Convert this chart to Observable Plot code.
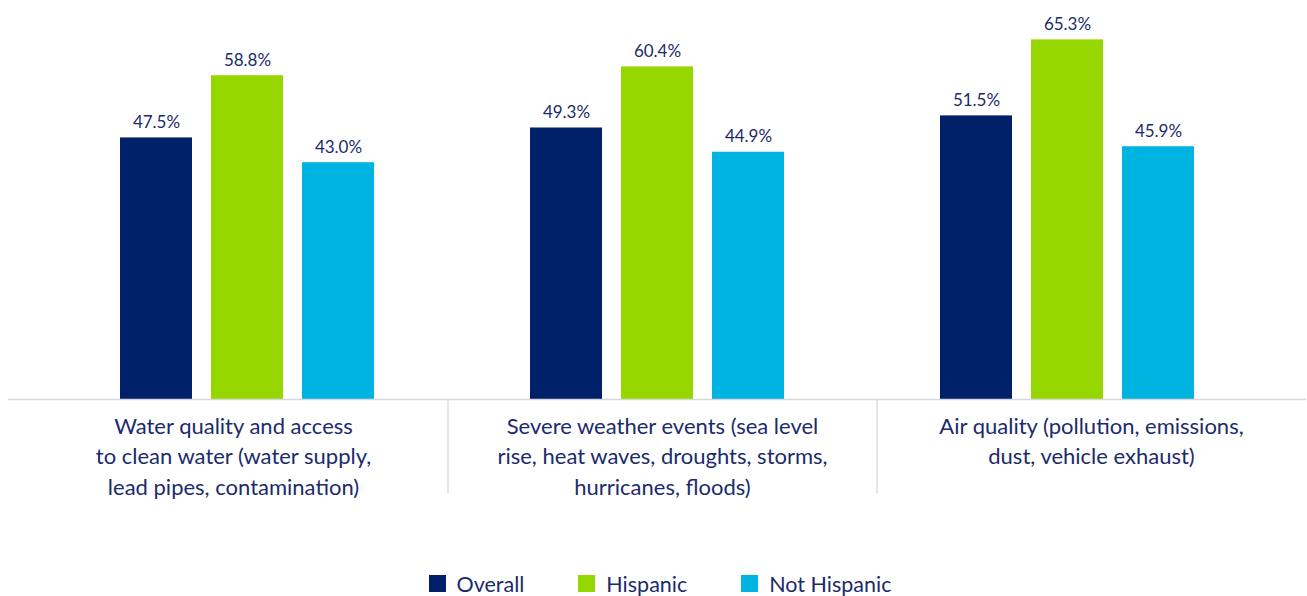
<!DOCTYPE html>
<html>
<head>
<meta charset="utf-8">
<script src="https://cdn.jsdelivr.net/npm/d3@7"></script>
<script src="https://cdn.jsdelivr.net/npm/@observablehq/plot@0.6"></script>
<style>
  html, body { margin: 0; padding: 0; background: #fff; }
  #chart { width: 1307px; }
  .lg-swatches { justify-content: center; font-family: Lato, "Open Sans", sans-serif; font-size: 21.5px; color: #1b2b6b; padding-left: 13px; margin-top: 1px; }
  .lg-swatch { margin-right: 54px !important; }
  .lg-swatch:last-child { margin-right: 0 !important; }
  .lg-swatch > svg { margin-right: 11px !important; }
</style>
</head>
<body>
<div id="chart"></div>
<script>
// ---- data ----
const categories = [
  "Water quality and access\nto clean water (water supply,\nlead pipes, contamination)",
  "Severe weather events (sea level\nrise, heat waves, droughts, storms,\nhurricanes, floods)",
  "Air quality (pollution, emissions,\ndust, vehicle exhaust)"
];
const series = ["Overall", "Hispanic", "Not Hispanic"];
const overall = [47.5, 49.3, 51.5];
const hispanic = [58.8, 60.4, 65.3];
const notHispanic = [43.0, 44.9, 45.9];
const colors = ["#002169", "#97d700", "#00b4e1"];
const textColor = "#1b2b6b";

const valuesBySeries = [overall, hispanic, notHispanic];
const rows = [];
series.forEach((s, si) => categories.forEach((c, ci) => rows.push({category: c, series: s, value: valuesBySeries[si][ci]})));

// ---- layout ----
const W = 1307, H = 566, baseline = 399;
const marginLeft = 8, marginRight = 1, marginTop = 13.5;
const step = 410, barW = 72, barStep = 91;
const paddingOuter = ((W - marginLeft - marginRight) / step - categories.length) / 2;
const barCenter = i => marginLeft + paddingOuter * step + step * (i + 0.5);
// label columns (slightly wider than bar groups)
const colStart = 18.5, colStep = 429;
const colCenter = i => colStart + colStep * (i + 0.5);
const font = "Lato, 'Open Sans', sans-serif";

const marks = [];
series.forEach((s, si) => {
  const d = rows.filter(r => r.series === s);
  const dx = (si - 1) * barStep;
  marks.push(Plot.barY(d, {x: "category", y: "value", fill: "series", dx, insetLeft: (step - barW) / 2, insetRight: (step - barW) / 2}));
  marks.push(Plot.text(d, {x: "category", y: "value", dx, dy: -15.5, text: r => r.value.toFixed(1) + "%", fill: textColor, fontSize: 17, fontFamily: font}));
});
categories.slice(0, -1).forEach((c, i) => {
  marks.push(Plot.ruleX([c], {x: d => d, dx: colStart + colStep * (i + 1) - barCenter(i), stroke: "#dcdce6", strokeWidth: 1.5, insetTop: baseline - marginTop, insetBottom: -94}));
});
marks.push(Plot.ruleY([0], {stroke: "#d6d6e0", strokeWidth: 1.5}));
categories.forEach((c, i) => {
  marks.push(Plot.text([c], {x: d => d, y: () => 0, text: d => d, dx: colCenter(i) - barCenter(i), dy: 12.5, lineAnchor: "top", lineHeight: 1.386, fontSize: 22, fill: textColor, fontFamily: font}));
});

const plot = Plot.plot({
  width: W,
  height: H,
  marginLeft, marginRight, marginTop,
  marginBottom: H - baseline,
  style: {fontFamily: font, background: "#fff"},
  x: {domain: categories, paddingInner: 0, paddingOuter, axis: null},
  y: {domain: [0, 70], axis: null},
  color: {domain: series, range: colors},
  marks
});
const chart = document.getElementById("chart");
chart.appendChild(plot);
chart.appendChild(plot.legend("color", {className: "lg", swatchSize: 17}));
</script>
</body>
</html>
